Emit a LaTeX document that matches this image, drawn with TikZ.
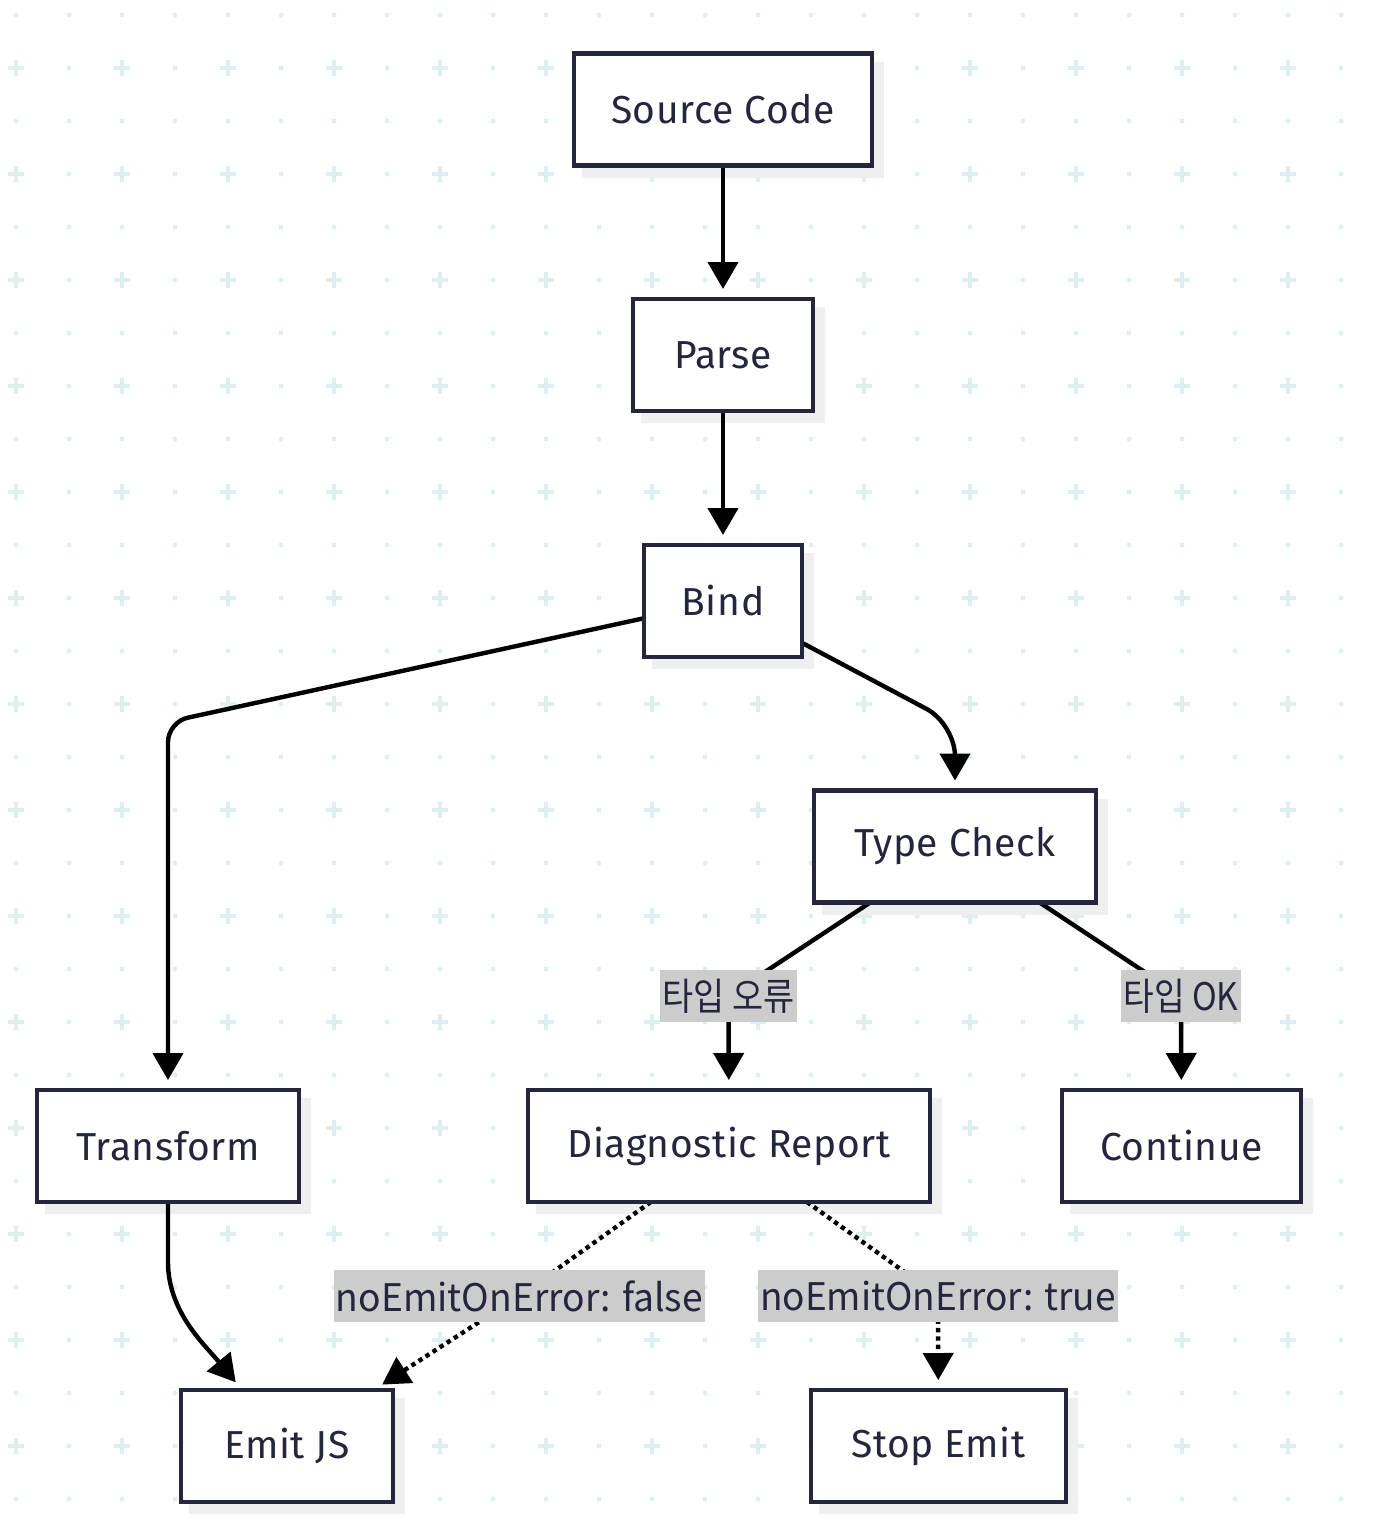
\documentclass[tikz,border=0pt]{standalone}
\usepackage{fontspec}
\usepackage{graphicx}
\setmainfont{Fira Sans}[LetterSpace=1.5]
\newfontfamily\lblfont{Noto Sans CJK KR}
\usetikzlibrary{arrows.meta}
\definecolor{ink}{HTML}{25253D}
\definecolor{gridc}{HTML}{DDEFEF}
\definecolor{shadowc}{HTML}{EFEFEF}
\definecolor{lblbg}{HTML}{CCCCCC}
\pgfdeclarelayer{bglayer}
\pgfdeclarelayer{shadowlayer}
\pgfdeclarelayer{edgelayer}
\pgfsetlayers{bglayer,shadowlayer,edgelayer,main}
\tikzset{
  box/.style={draw=ink, line width=2.1pt, fill=white, text=ink, inner sep=0pt, outer sep=0pt,
    font=\fontsize{19.5}{23}\selectfont, minimum height=56pt},
  lbl/.style={fill=lblbg, text=ink, inner xsep=1.2pt, inner ysep=0pt, minimum height=26pt,
    font=\lblfont\fontsize{19}{22}\selectfont},
  edge/.style={draw=black, line width=2.2pt, -{Triangle[length=13.5pt,width=15pt]}, shorten >=5pt},
  dotedge/.style={edge, dash pattern=on 2.2pt off 2pt},
}
\begin{document}
\begin{tikzpicture}[x=0.5pt,y=-0.5pt]
\useasboundingbox (0,0) rectangle (1380,1532);
\begin{pgfonlayer}{bglayer}
\fill[white] (0,0) rectangle (1380,1532);
\foreach \i in {0,...,25}{
  \foreach \j in {0,...,28}{
    \pgfmathsetmacro\gx{16+53*\i}
    \pgfmathsetmacro\gy{15+53*\j}
    \ifodd\j
      \ifodd\i
        \fill[gridc] (\gx,\gy) circle[radius=1.25pt];
      \else
        \fill[gridc] (\gx-8,\gy-2) rectangle (\gx+8,\gy+2);
        \fill[gridc] (\gx-2,\gy-8) rectangle (\gx+2,\gy+8);
      \fi
    \else
      \fill[gridc] (\gx,\gy) circle[radius=1.25pt];
    \fi
  }
}
\end{pgfonlayer}

% nodes
\node[box, minimum width=148.9pt] (src) at (723,109.5) {Source Code};
\node[box, minimum width=89.9pt] (parse) at (723,355) {Parse};
\node[box, minimum width=78.9pt] (bind) at (723,601) {Bind};
\node[box, minimum width=140.9pt] (tc) at (955,846.5) {Type Check};
\node[box, minimum width=130.9pt] (tr) at (168,1146) {Transform};
\node[box, minimum width=200.9pt] (diag) at (729,1146) {Diagnostic Report};
\node[box, minimum width=119.4pt] (cont) at (1181.5,1146) {Continue};
\node[box, minimum width=105.9pt] (emit) at (287,1446) {Emit JS};
\node[box, minimum width=127.4pt] (stop) at (938.5,1446) {Stop Emit};

% labels
\node[lbl] (l1) at (728.5,996) {\resizebox{66pt}{\height}{타입 오류}};
\node[lbl] (l2) at (1181,996) {\resizebox{57.5pt}{\height}{타입 OK}};
\node[lbl] (l3) at (519.5,1296) {\resizebox{183.5pt}{\height}{noEmitOnError: false}};
\node[lbl] (l4) at (938,1296) {\resizebox{178pt}{\height}{noEmitOnError: true}};

% shadows
\begin{pgfonlayer}{shadowlayer}
\foreach \n in {src,parse,bind,tc,tr,diag,cont,emit,stop}{
  \fill[shadowc] ([shift={(8,8)}]\n.north west) rectangle ([shift={(12,12)}]\n.south east);
}
\end{pgfonlayer}

% edges
\begin{pgfonlayer}{edgelayer}
\draw[edge] (src) -- (parse);
\draw[edge] (parse) -- (bind);
\draw[edge, rounded corners=10pt] (bind) -- (168,722) -- (tr);
\draw[edge, rounded corners=16pt] (bind) -- (955,724) -- (tc);
\draw[edge] (tc) -- (l1.center) -- (diag);
\draw[edge] (tc) -- (l2.center) -- (cont);
\draw[edge] (tr) -- (168,1262) .. controls (168,1312) and (205,1345) .. ([xshift=30.5pt]emit.north west);
\draw[dotedge] (diag) -- (l3.center) -- (emit);
\draw[dotedge] (diag) -- (l4.center) -- (stop);
\end{pgfonlayer}
\end{tikzpicture}
\end{document}
